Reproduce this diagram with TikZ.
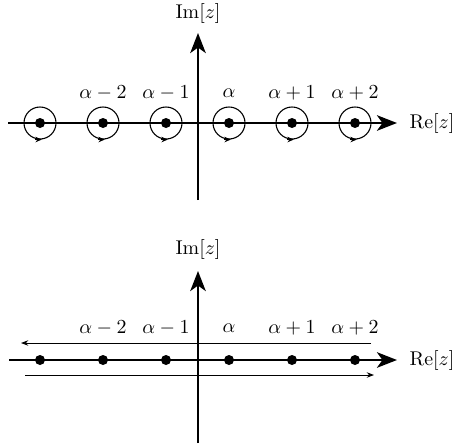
\documentclass[tikz,border=0pt]{standalone}
\usetikzlibrary{arrows.meta}
\begin{document}
\begin{tikzpicture}[x=0.55pt,y=-0.55pt,
  font=\fontsize{10.5}{12.5}\selectfont,
  axis/.style={line width=1.5pt,-{Stealth[length=11pt,width=8.5pt,inset=3pt]}},
  thinarrow/.style={line width=0.5pt,-{Stealth[length=4pt,width=3pt]}},
  dot/.style={circle,fill=black,inner sep=0pt,minimum size=5.5pt},
  ring/.style={circle,draw,line width=0.6pt,inner sep=0pt,minimum size=17.6pt},
  ringtip/.style={line width=0.6pt,-{Stealth[length=3.5pt,width=3pt]}},
  lab/.style={inner sep=1pt}]
\useasboundingbox (0,0) rectangle (457,443);
% ---------- top panel ----------
\coordinate (tx0) at (8,123);
\coordinate (tx1) at (397,123);
\coordinate (ty0) at (198,200);
\coordinate (ty1) at (198,33);
\draw[axis] (tx0) -- (tx1);
\draw[axis] (ty0) -- (ty1);
\node[lab] (tre) at (432,124) {$\mathrm{Re}[z]$};
\node[lab] (tim) at (198,14) {$\mathrm{Im}[z]$};
\foreach \i/\x in {1/40,2/103,3/166,4/229,5/292,6/355}{
  \node[dot] (td\i) at (\x,123) {};
  \node[ring] (tr\i) at (\x,123) {};
  \draw[ringtip] ([xshift=-2.5pt]tr\i.south) -- ([xshift=1pt]tr\i.south);
}
\foreach \i/\x/\t in {2/103/{\alpha-2},3/166/{\alpha-1},4/229/{\alpha},5/292/{\alpha+1},6/355/{\alpha+2}}{
  \node[lab] (tl\i) at (\x,93) {$\t$};
}
% ---------- bottom panel ----------
\coordinate (bx0) at (9,360);
\coordinate (bx1) at (397,360);
\coordinate (by0) at (198,443);
\coordinate (by1) at (198,271);
\draw[axis] (bx0) -- (bx1);
\draw[axis] (by0) -- (by1);
\node[lab] (bre) at (432,361) {$\mathrm{Re}[z]$};
\node[lab] (bim) at (198,250) {$\mathrm{Im}[z]$};
\foreach \i/\x in {1/40,2/103,3/166,4/229,5/292,6/355}{
  \node[dot] (bd\i) at (\x,360) {};
}
\foreach \i/\x/\t in {2/103/{\alpha-2},3/166/{\alpha-1},4/229/{\alpha},5/292/{\alpha+1},6/355/{\alpha+2}}{
  \node[lab] (bl\i) at (\x,328) {$\t$};
}
\coordinate (ua) at (371,343);
\coordinate (ub) at (21,343);
\coordinate (la) at (25,375);
\coordinate (lb) at (374,375);
\draw[thinarrow] (ua) -- (ub);
\draw[thinarrow] (la) -- (lb);
\end{tikzpicture}
\end{document}
